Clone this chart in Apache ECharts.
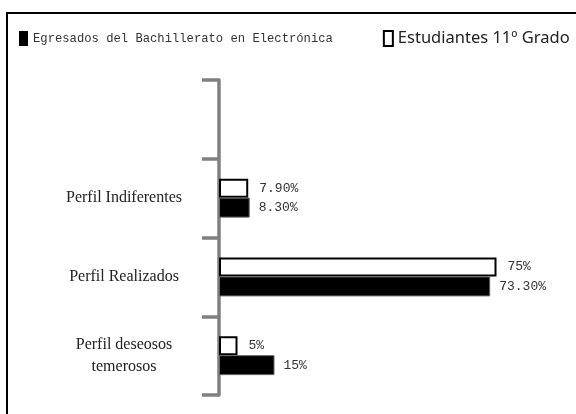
<!DOCTYPE html>
<html>
<head>
<meta charset="utf-8">
<script src="https://cdn.jsdelivr.net/npm/echarts@6/dist/echarts.min.js"></script>
<style>
  html, body { margin: 0; padding: 0; background: #fff; }
  #chart { width: 576px; height: 414px; }
</style>
</head>
<body>
<div id="chart"></div>
<script>
// categorias (la primera banda va vacia, como en el original)
const categorias = ['', 'Perfil Indiferentes', 'Perfil Realizados', 'Perfil deseosos\ntemerosos']
// Estudiantes 11º Grado (barra blanca)
const estudiantes = [null, 7.9, 75, 5]
const etiquetasEstudiantes = ['', '7.90%', '75%', '5%']
// Egresados del Bachillerato en Electrónica (barra negra)
const egresados = [null, 8.3, 73.3, 15]
const etiquetasEgresados = ['', '8.30%', '73.30%', '15%']

const chart = echarts.init(document.getElementById('chart'))

const option = {
  backgroundColor: '#fff',
  animation: false,
  graphic: [
    {
      type: 'rect',
      shape: { x: 7, y: 13, width: 700, height: 600 },
      style: { fill: 'none', stroke: '#000', lineWidth: 2 },
      silent: true
    }
  ],
  legend: {
    left: 19,
    top: 30,
    width: 570,
    padding: 0,
    itemWidth: 9,
    itemHeight: 15,
    itemGap: 50,
    icon: 'rect',
    data: [
      {
        name: 'Egresados del Bachillerato en Electrónica',
        itemStyle: { color: '#000', borderWidth: 0 },
        textStyle: { fontFamily: 'Liberation Mono', fontSize: 12.2, color: '#333' }
      },
      {
        name: 'Estudiantes 11º Grado',
        itemStyle: { color: '#fff', borderColor: '#000', borderWidth: 2 },
        textStyle: { fontFamily: 'Noto Sans', fontSize: 16.5, color: '#222' }
      }
    ]
  },
  grid: {
    left: 219,
    right: 24,
    top: 80,
    bottom: 19
  },
  xAxis: {
    type: 'value',
    min: 0,
    max: 90,
    show: false,
    splitLine: { show: false }
  },
  yAxis: {
    type: 'category',
    inverse: true,
    data: categorias,
    axisLine: { lineStyle: { color: '#808080', width: 3.5 } },
    axisTick: { show: true, length: 17, interval: 0, lineStyle: { color: '#808080', width: 3.5 } },
    axisLabel: {
      interval: 0,
      margin: 95,
      align: 'center',
      fontFamily: 'Liberation Serif',
      fontSize: 16,
      lineHeight: 22,
      color: '#222'
    }
  },
  series: [
    {
      name: 'Estudiantes 11º Grado',
      type: 'bar',
      data: estudiantes,
      barWidth: 19,
      barGap: '0%',
      itemStyle: { color: '#fff', borderColor: '#000', borderWidth: 2 },
      label: {
        show: true,
        position: 'right',
        distance: 11,
        fontFamily: 'Liberation Mono',
        fontSize: 13,
        color: '#333',
        formatter: p => etiquetasEstudiantes[p.dataIndex]
      }
    },
    {
      name: 'Egresados del Bachillerato en Electrónica',
      type: 'bar',
      data: egresados,
      barWidth: 20,
      barGap: '0%',
      itemStyle: { color: '#000', borderColor: '#666', borderWidth: 1 },
      label: {
        show: true,
        position: 'right',
        distance: 9,
        fontFamily: 'Liberation Mono',
        fontSize: 13,
        color: '#333',
        formatter: p => etiquetasEgresados[p.dataIndex]
      }
    }
  ]
}

chart.setOption(option)
</script>
</body>
</html>
